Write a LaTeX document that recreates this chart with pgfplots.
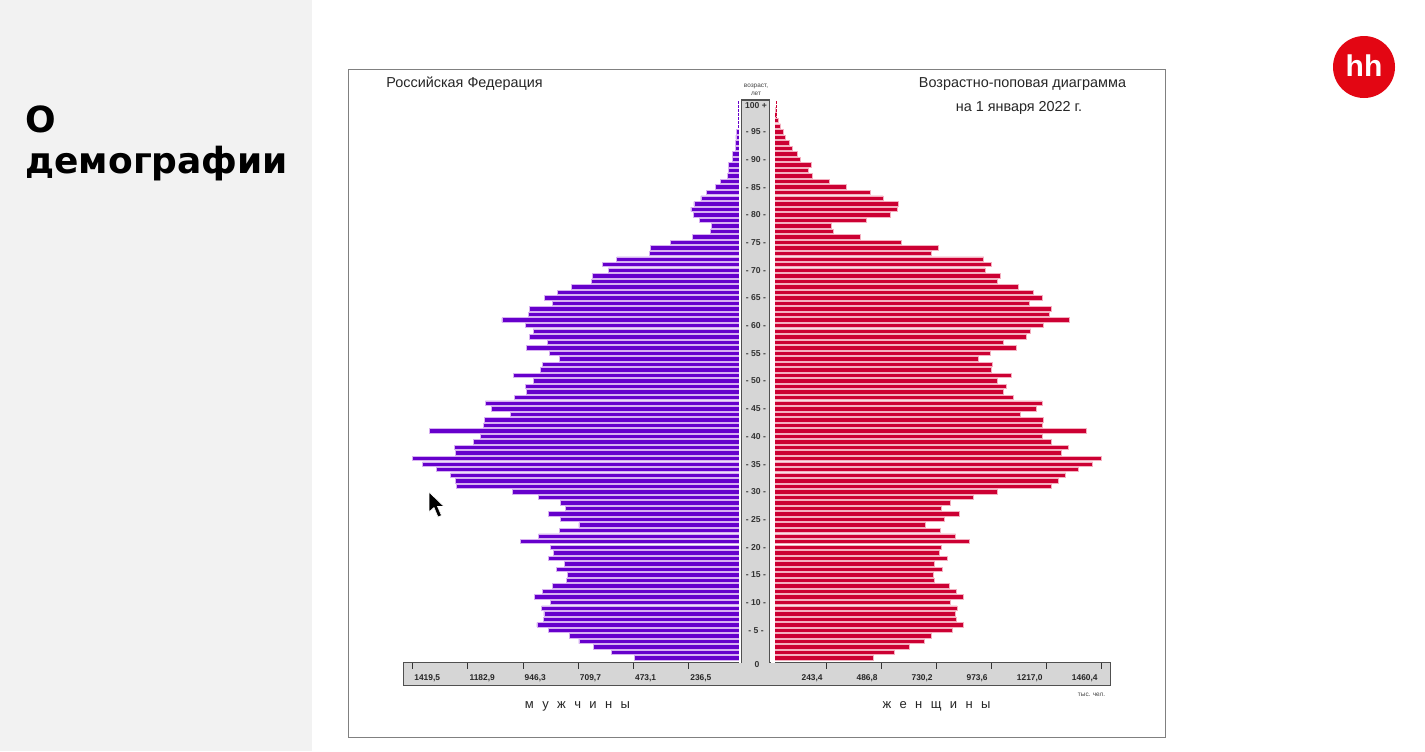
\documentclass[border=0pt]{standalone}
\usepackage{fontspec}
\setmainfont{Liberation Sans}
\newfontfamily\titlefont{DejaVu Sans}
\usepackage{pgfplots}
\usepackage{pgfplotstable}
\pgfplotsset{compat=1.18}

\definecolor{mpurple}{HTML}{6600CC}
\definecolor{mlilac}{HTML}{D7B0F2}
\definecolor{fred}{HTML}{CC0033}
\definecolor{fpink}{HTML}{F4B0C0}
\definecolor{stripgrey}{HTML}{D6D6D6}
\definecolor{bordergrey}{HTML}{505050}
\definecolor{panelgrey}{HTML}{F2F2F2}
\definecolor{framegrey}{HTML}{808080}
\definecolor{hhred}{HTML}{E30613}

\pgfplotstableread{
age val
0 470
1 568
2 643
3 707
4 746
5 837
6 887
7 860
8 857
9 867
10 831
11 898
12 864
13 820
14 762
15 758
16 804
17 770
18 837
19 818
20 828
21 958
22 880
23 790
24 707
25 785
26 837
27 765
28 788
29 880
30 994
31 1234
32 1238
33 1257
34 1317
35 1377
36 1419
37 1235
38 1241
39 1160
40 1128
41 1348
42 1117
43 1112
44 1002
45 1081
46 1108
47 983
48 931
49 938
50 904
51 987
52 871
53 865
54 790
55 833
56 931
57 844
58 920
59 904
60 935
61 1037
62 922
63 920
64 821
65 855
66 801
67 738
68 655
69 650
70 581
71 608
72 545
73 405
74 400
75 314
76 222
77 144
78 139
79 191
80 218
81 227
82 214
83 184
84 162
85 122
86 99
87 69
88 65
89 65
90 48
91 48
92 38
93 38
94 34
95 31
96 20
97 16
98 12
99 9
100 10
}\male

\pgfplotstableread{
age val
0 451
1 544
2 614
3 678
4 711
5 801
6 850
7 820
8 816
9 824
10 792
11 850
12 820
13 788
14 723
15 720
16 760
17 723
18 780
19 743
20 755
21 878
22 817
23 751
24 683
25 767
26 833
27 755
28 792
29 894
30 1000
31 1239
32 1271
33 1305
34 1361
35 1423
36 1460
37 1285
38 1317
39 1239
40 1199
41 1394
42 1199
43 1204
44 1102
45 1175
46 1199
47 1072
48 1028
49 1040
50 1000
51 1066
52 976
53 979
54 919
55 972
56 1088
57 1029
58 1130
59 1150
60 1204
61 1322
62 1232
63 1239
64 1142
65 1199
66 1159
67 1097
68 1003
69 1016
70 947
71 976
72 942
73 711
74 739
75 577
76 394
77 276
78 268
79 422
80 528
81 558
82 565
83 496
84 442
85 333
86 260
87 183
88 167
89 178
90 130
91 118
92 93
93 81
94 62
95 55
96 43
97 34
98 24
99 20
100 15
}\female

\newcommand{\g}{\hspace{4.2pt}}

\begin{document}
\begin{tikzpicture}[x=0.5pt,y=-0.5pt]
% slide background
\fill[white] (0,0) rectangle (1425,751);
\fill[panelgrey] (0,0) rectangle (312,751);
% left title
\node[anchor=base west, inner sep=0pt, font=\titlefont\bfseries\fontsize{18pt}{20pt}\selectfont] at (25,132) {О};
\node[anchor=base west, inner sep=0pt, font=\titlefont\bfseries\fontsize{18pt}{20pt}\selectfont] at (25,173) {демографии};
% hh logo
\fill[hhred] (1364,67) circle (15.5pt);
\node[text=white, font=\bfseries\fontsize{15pt}{16pt}\selectfont, inner sep=0pt] at (1364,66) {hh};
% chart frame
\draw[framegrey, line width=0.75pt] (348.5,69.5) rectangle (1165.5,737.5);
% bottom ruler
\filldraw[fill=stripgrey, draw=bordergrey, line width=0.7pt] (403.3,662.7) rectangle (1110.7,685.7);

% male axis
\begin{axis}[
  at={(371.95pt,-331.35pt)}, anchor=south east,
  scale only axis, width=170.3pt, height=281.01pt,
  x dir=reverse, xmin=0, xmax=1460, ymin=-0.848, ymax=100.6,
  axis line style={draw=none},
  ytick=\empty,
  xtick={236.5,473.1,709.7,946.3,1182.9,1419.5},
  xticklabels={{236,5},{473,1},{709,7},{946,3},{1182,9},{1419,5}},
  xtick pos=bottom, tick align=outside, major tick length=3pt,
  xtick style={black!80, line width=0.5pt},
  xticklabel style={anchor=west, xshift=0.6pt, yshift=-5pt, inner sep=0pt, text=black!85,
    font=\bfseries\fontsize{4.2pt}{5pt}\selectfont},
]
\addplot[xbar, bar width=0.8, fill=mpurple, draw=mlilac, line width=0.4pt] table[x=val,y=age]{\male};
\fill[white] (axis cs:0,-0.848) rectangle (axis cs:23,100.6);
\addplot[mpurple, line width=0.5pt, dash pattern=on 1.2pt off 0.8pt] coordinates {(25,100.5) (25,95.6)};
\end{axis}

% female axis
\begin{axis}[
  at={(385.5pt,-331.35pt)}, anchor=south west,
  scale only axis, width=169.85pt, height=281.01pt,
  xmin=0, xmax=1503.3, ymin=-0.848, ymax=100.6,
  axis line style={draw=none},
  ytick=\empty,
  xtick={243.4,486.8,730.2,973.6,1217.0,1460.4},
  xticklabels={{243,4},{486,8},{730,2},{973,6},{1217,0},{1460,4}},
  xtick pos=bottom, tick align=outside, major tick length=3pt,
  xtick style={black!80, line width=0.5pt},
  xticklabel style={anchor=east, xshift=-1.5pt, yshift=-5pt, inner sep=0pt, text=black!85,
    font=\bfseries\fontsize{4.2pt}{5pt}\selectfont},
]
\addplot[xbar, bar width=0.8, fill=fred, draw=fpink, line width=0.4pt] table[x=val,y=age]{\female};
\fill[white] (axis cs:0,-0.848) rectangle (axis cs:17.7,100.6);
\addplot[fred, line width=0.5pt, dash pattern=on 1.2pt off 0.8pt] coordinates {(26.5,100.5) (26.5,97.6)};
\end{axis}

% central age strip
\fill[stripgrey] (741.5,100) rectangle (769.5,685);
\draw[bordergrey, line width=0.8pt] (741.5,663) -- (741.5,100) -- (769.5,100) -- (769.5,663);
\foreach \a in {5,10,...,95} {
  \node[font=\bfseries\fontsize{4.3pt}{5pt}\selectfont, text=black!80, inner sep=0pt] at (756,658-5.54*\a) {- \a\ -};
}
\node[font=\bfseries\fontsize{4.3pt}{5pt}\selectfont, text=black!80, inner sep=0pt] at (756,105.5) {100 +};
\node[font=\bfseries\fontsize{4.3pt}{5pt}\selectfont, text=black!80, inner sep=0pt] at (757,664.5) {0};
\node[font=\fontsize{3.2pt}{4pt}\selectfont, text=black!75, inner sep=0pt] at (756,86) {возраст,};
\node[font=\fontsize{3.2pt}{4pt}\selectfont, text=black!75, inner sep=0pt] at (756,94) {лет};

% titles
\node[anchor=west, inner sep=0pt, font=\fontsize{7.2pt}{8pt}\selectfont, text=black!85] at (386,84) {Российская Федерация};
\node[inner sep=0pt, font=\fontsize{7.2pt}{8pt}\selectfont, text=black!85] at (1022.5,84) {Возрастно-поповая диаграмма};
\node[inner sep=0pt, font=\fontsize{7.2pt}{8pt}\selectfont, text=black!85] at (1019,108) {на 1 января 2022 г.};
\node[inner sep=0pt, font=\fontsize{6.5pt}{8pt}\selectfont, text=black!85] at (577.5,706.5) {м\g у\g ж\g ч\g и\g н\g ы};
\node[inner sep=0pt, font=\fontsize{6.5pt}{8pt}\selectfont, text=black!85] at (936.5,706.5) {ж\g е\g н\g щ\g и\g н\g ы};
\node[inner sep=0pt, font=\fontsize{3.2pt}{4pt}\selectfont, text=black!75] at (1091.5,694.3) {тыс. чел.};

% mouse cursor
\filldraw[fill=black, draw=white, line width=0.3pt] (429,492) -- (429,512) -- (434,507.5) -- (438,517) -- (441.5,515.5) -- (437.5,506.5) -- (444,506.5) -- cycle;
\end{tikzpicture}
\end{document}
